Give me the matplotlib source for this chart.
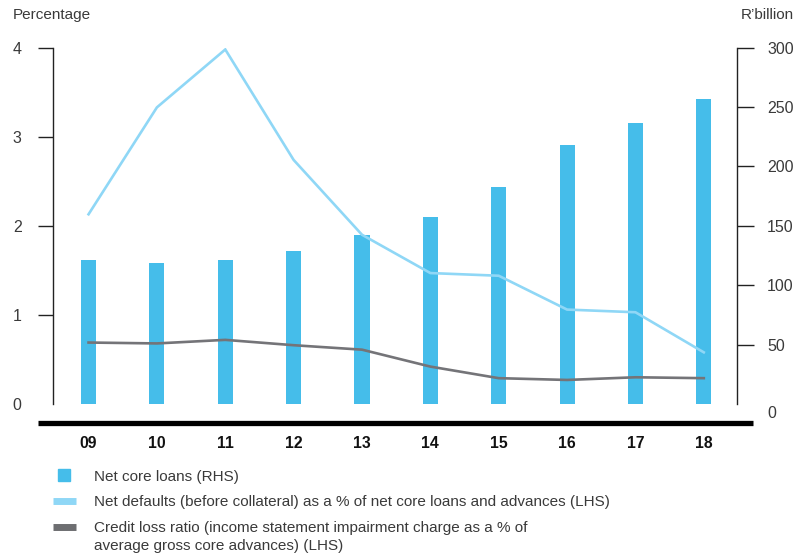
import numpy as np
import matplotlib
matplotlib.use("Agg")
import matplotlib.pyplot as plt
from matplotlib.lines import Line2D

plt.rcParams['font.family'] = ['Liberation Sans', 'DejaVu Sans']

years = ['09', '10', '11', '12', '13', '14', '15', '16', '17', '18']
net_core_loans = [121, 119, 121, 129, 142, 157.5, 183, 218, 237, 257]   # R'billion, RHS
net_defaults = [2.13, 3.33, 3.98, 2.74, 1.90, 1.47, 1.44, 1.06, 1.03, 0.58]  # %, LHS
credit_loss = [0.69, 0.68, 0.72, 0.66, 0.61, 0.42, 0.29, 0.27, 0.30, 0.29]   # %, LHS

left_ticks = [0, 1, 2, 3, 4]
right_ticks = [0, 50, 100, 150, 200, 250, 300]

bar_col = '#45bdea'
light_col = '#8fd7f6'
grey_col = '#747478'
txt_col = '#3a3a3a'

fig = plt.figure(figsize=(8.03, 5.55), dpi=100)
ax = fig.add_axes([53/803, 151/555, (737.3-53)/803, 356.3/555])
ax2 = ax.twinx()

x = np.arange(len(years))
ax2.bar(x, net_core_loans, width=0.22, color=bar_col)
ax.plot(x, net_defaults, color=light_col, lw=1.9, solid_joinstyle='miter')
ax.plot(x, credit_loss, color=grey_col, lw=1.9)

# lines above bars
ax.set_zorder(ax2.get_zorder() + 1)
ax.patch.set_visible(False)

ax.set_xlim(-0.52, 9.49)
ax.set_ylim(0, 4)
ax2.set_ylim(0, 300)

for a in (ax, ax2):
    for s in ('top', 'bottom'):
        a.spines[s].set_visible(False)
ax.spines['right'].set_visible(False)
ax2.spines['left'].set_visible(False)
ax.spines['left'].set_linewidth(1.0)
ax2.spines['right'].set_linewidth(1.0)
ax.spines['left'].set_color('#222222')
ax2.spines['right'].set_color('#222222')

ax.set_yticks(left_ticks)
ax.set_yticklabels([str(t) for t in left_ticks])
ax.tick_params(axis='y', length=11, width=1.0, pad=11.5, labelsize=11.5,
               labelcolor=txt_col, color='#222222')
ax.yaxis.get_major_ticks()[0].tick1line.set_visible(False)

ax2.set_yticks(right_ticks)
ax2.set_yticklabels([''] + [str(t) for t in right_ticks[1:]])
ax2.tick_params(axis='y', length=12, width=1.0, pad=9.5, labelsize=11.5,
                labelcolor=txt_col, color='#222222')
ax2.yaxis.get_major_ticks()[0].tick2line.set_visible(False)
ax2.annotate('0', xy=(1, 0), xycoords=('axes fraction', 'data'),
             xytext=(22, -7), textcoords='offset points',
             ha='left', va='center', fontsize=11.5, color=txt_col)

ax.set_xticks(x)
ax.set_xticklabels(years, fontweight='bold', fontsize=11.3, color='#111111')
ax.tick_params(axis='x', length=0, pad=23)

# thick base line under the plot
fig.add_artist(Line2D([38.5/803, 753.5/803], [1-423.3/555, 1-423.3/555],
                      color='black', lw=3.8, solid_capstyle='butt'))

fig.text(13/803, 1-15/555, 'Percentage', ha='left', va='center',
         fontsize=11, color=txt_col)
fig.text(794/803, 1-15/555, 'R\u2019billion', ha='right', va='center',
         fontsize=11, color=txt_col)

handles = [
    Line2D([], [], ls='none', marker='s', markersize=8, color=bar_col),
    Line2D([], [], color=light_col, lw=5, solid_capstyle='butt'),
    Line2D([], [], color='#6d6e71', lw=5, solid_capstyle='butt'),
]
labels = [
    'Net core loans (RHS)',
    'Net defaults (before collateral) as a % of net core loans and advances (LHS)',
    'Credit loss ratio (income statement impairment charge as a % of',
]
leg = fig.legend(handles, labels, loc='upper left', bbox_to_anchor=(53/803, 1-469.5/555),
                 frameon=False, fontsize=11, handlelength=1.5, handletextpad=1.2,
                 labelspacing=0.78, borderpad=0, borderaxespad=0)
for t in leg.get_texts():
    t.set_color(txt_col)

# second line of the last legend label, under its first line
fig.canvas.draw()
last = leg.get_texts()[2].get_window_extent()
inv = fig.transFigure.inverted()
x0, y0 = inv.transform((last.x0, last.y0))
fig.text(x0, y0 - 4/555, 'average gross core advances) (LHS)', ha='left', va='top',
         fontsize=11, color=txt_col)

fig.savefig('out.png', dpi=100)
